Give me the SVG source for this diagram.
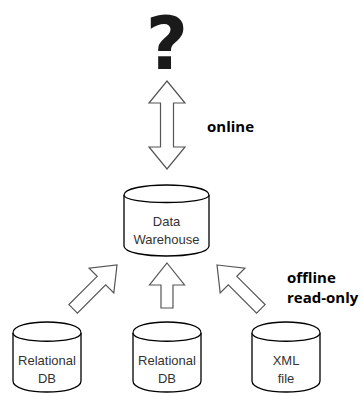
<svg xmlns="http://www.w3.org/2000/svg" width="363" height="396" viewBox="0 0 363 396">
<style>
.cyl{fill:#fff;stroke:#000;stroke-width:1.3}
.arr{fill:#fff;stroke:#555;stroke-width:1.2;stroke-linejoin:miter}
.lbl{font-family:"Liberation Sans",Arial,sans-serif;font-size:13px;fill:#333;text-anchor:middle}
.bold{font-family:"Open Sans","DejaVu Sans",sans-serif;font-weight:700;font-size:15px;fill:#000}
</style>
<rect width="363" height="396" fill="#fff"/>
<g id="question">
<text x="167" y="69" font-family="DejaVu Sans, sans-serif" font-weight="700" font-size="73" fill="#1a1a1a" text-anchor="middle">?</text>
</g>
<g id="connectors">
<polygon class="arr" points="167,81 185,103 173.5,103 173.5,147 185,147 167,169 149,147 160.5,147 160.5,103 149,103"/>
<polygon class="arr" points="0,0 17.5,22 6,22 6,62 -6,62 -6,22 -17.5,22" transform="translate(117,265) rotate(45)"/>
<polygon class="arr" points="0,0 17.5,22 6,22 6,45 -6,45 -6,22 -17.5,22" transform="translate(167,263)"/>
<polygon class="arr" points="0,0 17.5,22 6,22 6,62 -6,62 -6,22 -17.5,22" transform="translate(217,265) rotate(-45)"/>
<text class="bold" x="207" y="132">online</text>
<text class="bold" x="287" y="283">offline</text>
<text class="bold" x="287" y="303">read-only</text>
</g>
<g id="warehouse">
<path class="cyl" d="M124,195 C124,181.67 209,181.67 209,195 L209,246 C209,259.33 124,259.33 124,246 Z"/>
<path class="cyl" fill="none" d="M124,195 C124,205 209,205 209,195"/>
<text class="lbl" x="166.5" y="226">Data</text>
<text class="lbl" x="166.5" y="244">Warehouse</text>
</g>
<g id="db1">
<path class="cyl" d="M13,333 C13,318.33 81,318.33 81,333 L81,381 C81,395.67 13,395.67 13,381 Z"/>
<path class="cyl" d="M13,333 C13,344 81,344 81,333"/>
<text class="lbl" x="47" y="365">Relational</text>
<text class="lbl" x="47" y="383">DB</text>
</g>
<g id="db2">
<path class="cyl" d="M133,333 C133,318.33 201,318.33 201,333 L201,381 C201,395.67 133,395.67 133,381 Z"/>
<path class="cyl" d="M133,333 C133,344 201,344 201,333"/>
<text class="lbl" x="167" y="365">Relational</text>
<text class="lbl" x="167" y="383">DB</text>
</g>
<g id="xml">
<path class="cyl" d="M252,333 C252,318.33 320,318.33 320,333 L320,381 C320,395.67 252,395.67 252,381 Z"/>
<path class="cyl" d="M252,333 C252,344 320,344 320,333"/>
<text class="lbl" x="286" y="365">XML</text>
<text class="lbl" x="286" y="383">file</text>
</g>
</svg>
